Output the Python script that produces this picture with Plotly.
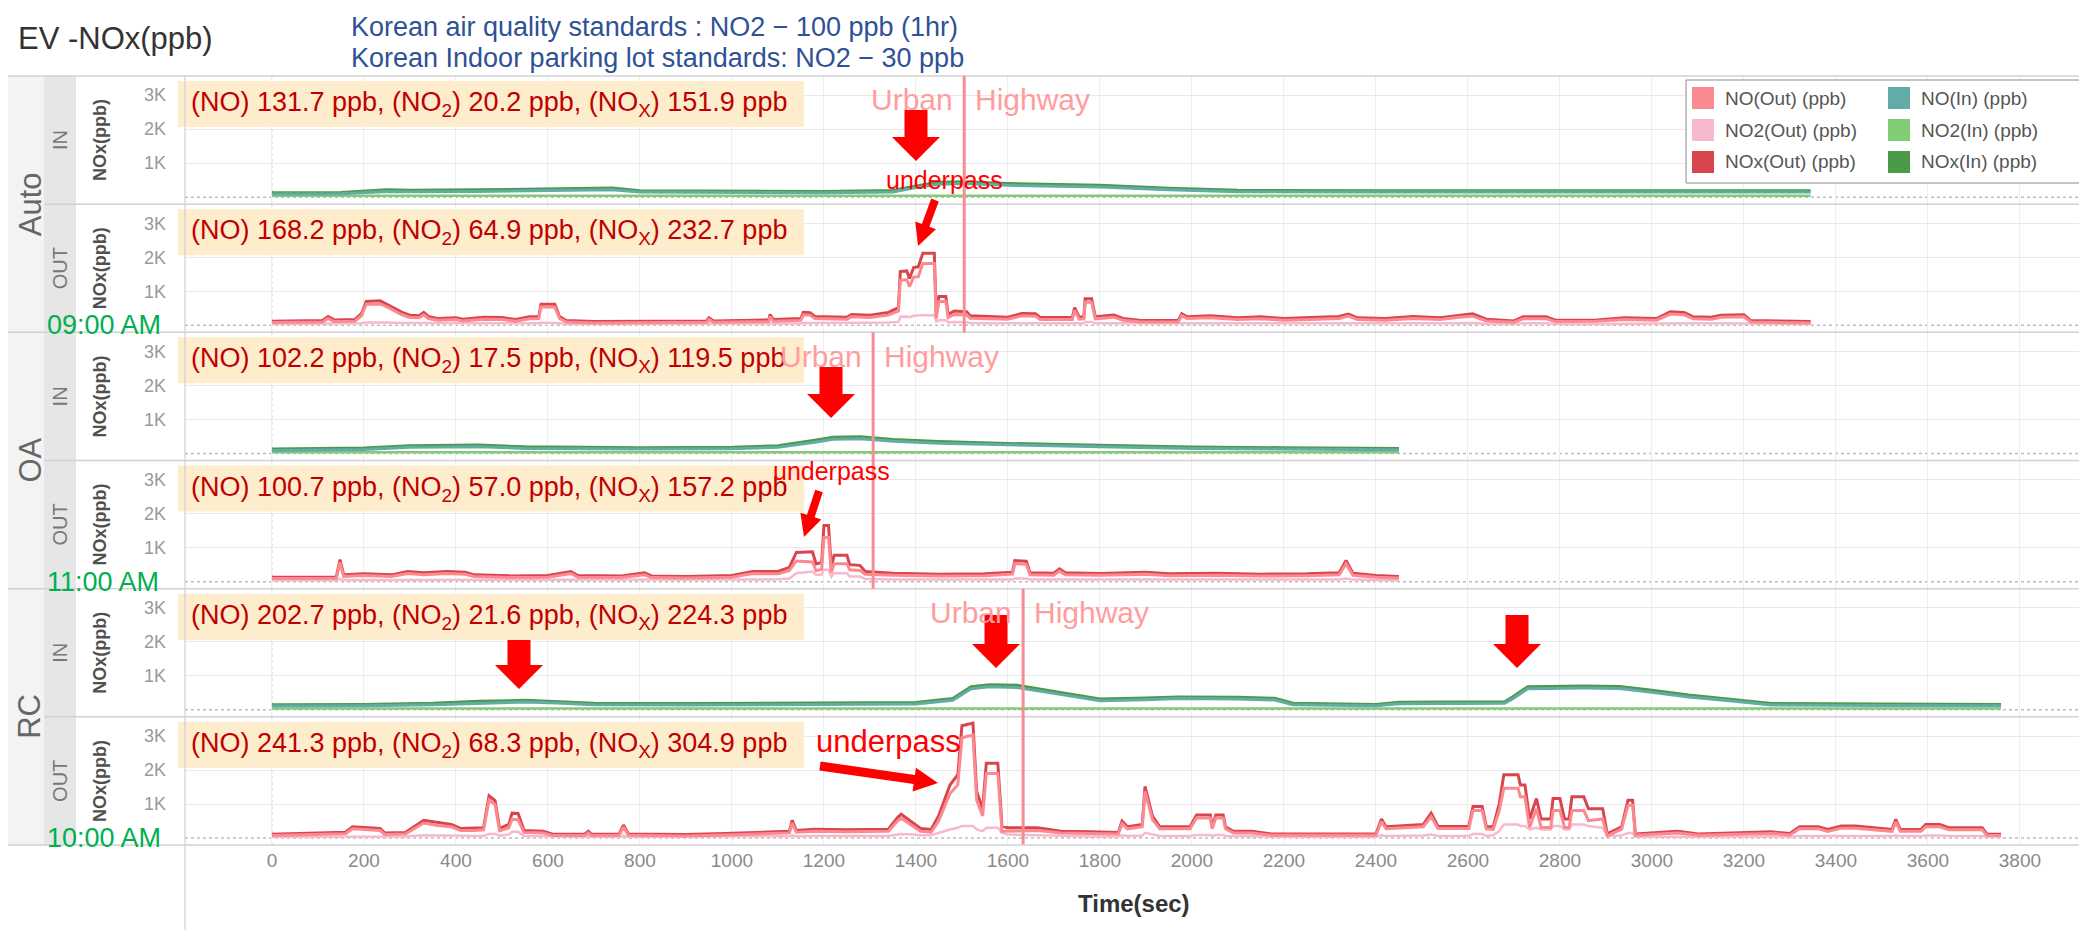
import math
import plotly.graph_objects as go

W, H = 2087, 930

# ======================= DATA =======================
x_ticks = [0, 200, 400, 600, 800, 1000, 1200, 1400, 1600, 1800, 2000,
           2200, 2400, 2600, 2800, 3000, 3200, 3400, 3600, 3800]
y_tick_vals = [1000, 2000, 3000]
y_tick_text = ["1K", "2K", "3K"]

groups = ["Auto", "OA", "RC"]
locations = ["IN", "OUT"]
start_times = ["09:00 AM", "11:00 AM", "10:00 AM"]
boundary_t = [1505, 1307, 1633]          # Urban | Highway boundary (sec)

# summary per panel: Auto IN, Auto OUT, OA IN, OA OUT, RC IN, RC OUT
summary_no = [131.7, 168.2, 102.2, 100.7, 202.7, 241.3]
summary_no2 = [20.2, 64.9, 17.5, 57.0, 21.6, 68.3]
summary_nox = [151.9, 232.7, 119.5, 157.2, 224.3, 304.9]

# ---- Auto IN ----
auto_in_t = [0, 150, 250, 300, 450, 600, 680, 740, 800, 1000, 1200, 1350, 1400, 1450,
             1500, 1600, 1800, 1950, 2100, 2400, 2700, 3000, 3345]
auto_in_no = [90, 100, 170, 160, 170, 190, 220, 220, 150, 140, 130, 150, 280, 380,
              400, 350, 300, 220, 160, 150, 140, 150, 150]
auto_in_no2 = [40, 40, 45, 45, 45, 50, 50, 50, 40, 40, 40, 45, 50, 55,
               55, 50, 50, 45, 40, 40, 40, 40, 40]
auto_in_nox = [130, 140, 215, 205, 215, 240, 270, 270, 190, 180, 170, 195, 330, 435,
               455, 400, 350, 265, 200, 190, 180, 190, 190]

# ---- Auto OUT ----
auto_out_t = [0, 60, 110, 122, 135, 180, 195, 205, 235, 250, 283, 300, 320, 330, 340,
              360, 400, 415, 460, 500, 530, 560, 580, 585, 615, 625, 640, 700, 800, 900,
              945, 950, 960, 1050, 1080, 1083, 1090, 1150, 1155, 1170, 1180, 1250, 1260,
              1300, 1340, 1362, 1366, 1380, 1386, 1395, 1405, 1415, 1440, 1444, 1450,
              1465, 1470, 1483, 1510, 1518, 1560, 1600, 1630, 1660, 1670, 1740, 1745,
              1755, 1765, 1768, 1782, 1790, 1830, 1850, 1890, 1970, 1978, 1990, 2040,
              2100, 2150, 2200, 2260, 2320, 2340, 2360, 2420, 2480, 2540, 2580, 2610,
              2640, 2700, 2720, 2770, 2790, 2880, 2940, 3010, 3040, 3070, 3090, 3130,
              3150, 3200, 3215, 3345]
auto_out_nox = [120, 130, 140, 260, 160, 170, 350, 700, 720, 620, 380, 300, 280, 380, 260,
                200, 220, 180, 240, 230, 170, 250, 260, 620, 620, 260, 140, 110, 110, 120,
                130, 220, 130, 150, 160, 320, 170, 200, 380, 370, 260, 240, 320,
                300, 380, 520, 1580, 1600, 1380, 1700, 1720, 2120, 2120, 320, 850,
                850, 320, 420, 400, 280, 250, 240, 350, 340, 230, 230, 520,
                240, 250, 780, 780, 250, 300, 200, 140, 140, 340, 250, 280,
                220, 250, 200, 230, 260, 330, 220, 200, 260, 220, 300, 340,
                180, 130, 250, 250, 150, 160, 220, 200, 400, 380, 250, 240,
                300, 310, 140, 110]
auto_out_no2 = [40, 40, 45, 60, 50, 50, 60, 80, 90, 80, 70, 70, 60, 70, 60,
                50, 50, 50, 60, 60, 50, 60, 60, 80, 80, 60, 40, 40, 40, 40,
                40, 50, 40, 45, 50, 60, 50, 55, 70, 70, 60, 60, 70,
                70, 80, 100, 250, 260, 240, 280, 290, 300, 300, 120, 150,
                150, 90, 100, 90, 70, 60, 60, 70, 70, 60, 60, 80,
                60, 60, 100, 100, 60, 60, 50, 40, 40, 60, 50, 60,
                50, 55, 50, 55, 60, 60, 50, 50, 60, 50, 60, 70,
                50, 40, 60, 60, 40, 40, 50, 50, 70, 70, 60, 60,
                60, 60, 40, 40]
auto_out_no = [80, 90, 95, 200, 110, 120, 290, 620, 630, 540, 310, 230, 220, 310, 200,
               150, 170, 130, 180, 170, 120, 190, 200, 540, 540, 200, 100, 70, 70, 80,
               90, 170, 90, 105, 110, 260, 120, 145, 310, 300, 200, 180, 250,
               230, 300, 420, 1330, 1340, 1140, 1420, 1430, 1820, 1820, 200, 700,
               700, 230, 320, 310, 210, 190, 180, 280, 270, 170, 170, 440,
               180, 190, 680, 680, 190, 240, 150, 100, 100, 280, 200, 220,
               170, 195, 150, 175, 200, 270, 170, 150, 200, 170, 240, 270,
               130, 90, 190, 190, 110, 120, 170, 150, 330, 310, 190, 180,
               240, 250, 100, 70]

# ---- OA IN ----
oa_in_t = [0, 200, 300, 450, 550, 800, 1000, 1100, 1180, 1220, 1280, 1350, 1450, 1600,
           1800, 2000, 2200, 2450]
oa_in_no = [90, 120, 180, 200, 150, 130, 140, 180, 330, 420, 430, 360, 300, 250,
            200, 150, 130, 110]
oa_in_no2 = [40, 40, 45, 50, 45, 40, 40, 45, 60, 60, 60, 55, 50, 45,
             45, 40, 40, 40]
oa_in_nox = [130, 160, 225, 250, 195, 170, 180, 225, 390, 480, 490, 415, 350, 295,
             245, 190, 170, 150]

# ---- OA OUT ----
oa_out_t = [0, 140, 148, 156, 200, 260, 295, 330, 380, 420, 440, 520, 600, 650, 665,
            760, 810, 825, 900, 1000, 1045, 1100, 1125, 1140, 1175, 1183, 1195, 1200,
            1210, 1216, 1222, 1250, 1256, 1278, 1290, 1350, 1450, 1550, 1610, 1615,
            1640, 1648, 1700, 1712, 1725, 1800, 1900, 1950, 2050, 2150, 2250, 2320,
            2335, 2350, 2400, 2450]
oa_out_nox = [130, 140, 650, 200, 230, 200, 300, 260, 300, 280, 200, 170, 180, 300, 180,
              170, 260, 170, 150, 180, 300, 300, 420, 860, 880, 520, 560, 1650,
              1650, 420, 780, 780, 500, 480, 300, 250, 220, 230, 280, 620,
              600, 260, 250, 380, 260, 240, 280, 230, 250, 220, 230, 260,
              620, 250, 180, 150]
oa_out_no2 = [40, 40, 80, 50, 50, 50, 60, 60, 60, 60, 50, 50, 50, 60, 50,
              50, 60, 50, 45, 50, 60, 70, 90, 250, 300, 200, 200, 350,
              350, 150, 250, 250, 150, 150, 80, 60, 55, 55, 60, 90,
              90, 60, 60, 70, 60, 55, 60, 55, 60, 55, 55, 60,
              90, 60, 50, 45]
oa_out_no = [90, 100, 570, 150, 180, 150, 240, 200, 240, 220, 150, 120, 130, 240, 130,
             120, 200, 120, 105, 130, 240, 230, 330, 610, 580, 320, 360, 1300,
             1300, 270, 530, 530, 350, 330, 220, 190, 165, 175, 220, 530,
             510, 200, 190, 310, 200, 185, 220, 175, 190, 165, 175, 200,
             530, 190, 130, 105]

# ---- RC IN ----
rc_in_t = [0, 200, 350, 450, 550, 620, 700, 900, 1100, 1300, 1400, 1480, 1520, 1560,
           1620, 1720, 1800, 1900, 1970, 2100, 2180, 2220, 2400, 2450, 2680, 2700, 2730,
           2850, 2930, 3000, 3080, 3180, 3260, 3500, 3759]
rc_in_no = [110, 120, 150, 200, 230, 200, 150, 140, 150, 160, 170, 280, 620, 680,
            660, 440, 270, 300, 330, 320, 290, 150, 120, 180, 190, 350, 620,
            640, 630, 520, 380, 250, 140, 130, 120]
rc_in_no2 = [40, 40, 45, 50, 50, 50, 45, 45, 45, 45, 45, 50, 60, 60,
             60, 55, 50, 50, 50, 50, 50, 45, 40, 45, 45, 55, 60,
             60, 60, 55, 55, 50, 45, 40, 40]
rc_in_nox = [150, 160, 195, 250, 280, 250, 195, 185, 195, 205, 215, 330, 680, 740,
             720, 495, 320, 350, 380, 370, 340, 195, 160, 225, 235, 405, 680,
             700, 690, 575, 435, 300, 185, 170, 160]

# ---- RC OUT ----
rc_out_t = [0, 90, 160, 175, 235, 245, 290, 330, 360, 390, 410, 440, 460, 472, 485,
            495, 515, 522, 535, 548, 590, 610, 680, 688, 695, 755, 764, 775, 900, 985,
            1090, 1125, 1131, 1140, 1180, 1250, 1340, 1360, 1368, 1395, 1410, 1433, 1449,
            1474, 1491, 1500, 1524, 1532, 1545, 1553, 1578, 1587, 1600, 1665, 1715,
            1780, 1840, 1848, 1860, 1892, 1898, 1914, 1930, 1996, 2010, 2040, 2044,
            2052, 2068, 2073, 2090, 2130, 2173, 2400, 2412, 2422, 2503, 2520, 2535,
            2602, 2611, 2631, 2640, 2655, 2668, 2678, 2709, 2714, 2724, 2734, 2749,
            2759, 2780, 2785, 2800, 2810, 2820, 2826, 2852, 2862, 2893, 2903, 2934,
            2948, 2958, 2964, 3056, 3100, 3260, 3300, 3321, 3362, 3382, 3412, 3443,
            3522, 3530, 3540, 3585, 3595, 3626, 3646, 3718, 3728, 3759]
rc_out_nox = [110, 150, 170, 330, 280, 150, 160, 520, 450, 400, 280, 280, 300, 1240, 1100,
              280, 400, 730, 720, 220, 200, 110, 110, 200, 110, 120, 380, 120, 100, 130,
              170, 200, 520, 220, 260, 240, 260, 600, 700, 420, 280, 250, 640,
              1560, 1860, 3300, 3380, 1370, 850, 2200, 2200, 350, 300, 300, 200,
              180, 160, 500, 330, 400, 1520, 650, 330, 330, 680, 680, 330,
              680, 680, 330, 200, 200, 120, 120, 560, 330, 400, 730, 340,
              340, 930, 930, 330, 330, 1000, 1860, 1860, 1560, 1560, 560, 1160,
              560, 560, 1160, 1160, 560, 560, 1210, 1210, 860, 860, 120, 330,
              1110, 1110, 120, 200, 120, 180, 130, 330, 330, 250, 350, 350,
              250, 550, 250, 250, 400, 400, 300, 300, 120, 110]
rc_out_no2 = [40, 45, 45, 60, 60, 45, 45, 80, 80, 70, 60, 60, 60, 120, 120,
              70, 100, 180, 180, 60, 50, 40, 40, 50, 40, 40, 60, 40, 40, 40,
              45, 50, 80, 50, 60, 60, 60, 100, 120, 100, 80, 80, 150,
              250, 300, 350, 350, 250, 200, 300, 300, 150, 100, 80, 50,
              45, 45, 80, 60, 70, 150, 100, 60, 60, 90, 90, 60,
              90, 90, 60, 50, 50, 40, 40, 80, 60, 70, 100, 60,
              60, 120, 120, 60, 80, 200, 400, 400, 350, 350, 250, 300,
              250, 250, 350, 350, 250, 250, 400, 400, 350, 300, 60, 70,
              150, 150, 40, 50, 40, 45, 40, 60, 60, 55, 60, 60,
              55, 80, 55, 55, 70, 70, 60, 60, 40, 40]
rc_out_no = [70, 105, 125, 270, 220, 105, 115, 440, 370, 330, 220, 220, 240, 1120, 980,
             210, 300, 550, 540, 160, 150, 70, 70, 150, 70, 80, 320, 80, 60, 90,
             125, 150, 440, 170, 200, 180, 200, 500, 580, 320, 200, 170, 490,
             1310, 1560, 2950, 3030, 1120, 650, 1900, 1900, 200, 200, 220, 150,
             135, 115, 420, 270, 330, 1370, 550, 270, 270, 590, 590, 270,
             590, 590, 270, 150, 150, 80, 80, 480, 270, 330, 630, 280,
             280, 810, 810, 270, 250, 800, 1460, 1460, 1210, 1210, 310, 860,
             310, 310, 810, 810, 310, 310, 810, 810, 510, 560, 60, 260,
             960, 960, 80, 150, 80, 135, 90, 270, 270, 195, 290, 290,
             195, 470, 195, 195, 330, 330, 240, 240, 80, 70]

panel_data = [
    (auto_in_t, auto_in_no, auto_in_no2, auto_in_nox),
    (auto_out_t, auto_out_no, auto_out_no2, auto_out_nox),
    (oa_in_t, oa_in_no, oa_in_no2, oa_in_nox),
    (oa_out_t, oa_out_no, oa_out_no2, oa_out_nox),
    (rc_in_t, rc_in_no, rc_in_no2, rc_in_nox),
    (rc_out_t, rc_out_no, rc_out_no2, rc_out_nox),
]

series_names = {
    "OUT": ["NO(Out) (ppb)", "NO2(Out) (ppb)", "NOx(Out) (ppb)"],
    "IN": ["NO(In) (ppb)", "NO2(In) (ppb)", "NOx(In) (ppb)"],
}
colors = {
    "NO(Out) (ppb)": "#fb8990", "NO2(Out) (ppb)": "#f8b8cd", "NOx(Out) (ppb)": "#d9454d",
    "NO(In) (ppb)": "#62aba6", "NO2(In) (ppb)": "#80cd74", "NOx(In) (ppb)": "#4b9a47",
}

# ======================= LAYOUT GEOMETRY =======================
TOP, BOT = 68, 837
PH = (BOT - TOP) / 6
XL, XR = 177, 2080
X_RANGE = [-189, 3948]
Y_RANGE = [-206, 3564]
FONT = "Liberation Sans, Arial, sans-serif"


def px(x):
    return x / W


def py(y):
    return 1 - y / H


def block_arrow(x0, y0, x1, y1, sw, hw, hl, color="#ff0000"):
    dx, dy = x1 - x0, y1 - y0
    L = math.hypot(dx, dy)
    ux, uy = dx / L, dy / L
    nx, ny = -uy, ux
    bx, by = x1 - ux * hl, y1 - uy * hl
    pts = [(x0 + nx * sw / 2, y0 + ny * sw / 2), (bx + nx * sw / 2, by + ny * sw / 2),
           (bx + nx * hw / 2, by + ny * hw / 2), (x1, y1),
           (bx - nx * hw / 2, by - ny * hw / 2), (bx - nx * sw / 2, by - ny * sw / 2),
           (x0 - nx * sw / 2, y0 - ny * sw / 2)]
    path = "M " + " L ".join(f"{px(a):.5f},{py(b):.5f}" for a, b in pts) + " Z"
    return dict(type="path", path=path, xref="paper", yref="paper",
                fillcolor=color, line=dict(width=0), layer="above")


def label(x, y, text, size, color, angle=0, xanchor="center", bold=False):
    return dict(xref="paper", yref="paper", x=px(x), y=py(y), xanchor=xanchor,
                yanchor="middle", text=f"<b>{text}</b>" if bold else text, textangle=angle,
                showarrow=False, font=dict(family=FONT, size=size, color=color))


fig = go.Figure()
shapes = []
annotations = []

for i, (t, no, no2, nox) in enumerate(panel_data):
    loc = locations[i % 2]
    n_no, n_no2, n_nox = series_names[loc]
    xa = "x" if i == 0 else f"x{i + 1}"
    ya = "y" if i == 0 else f"y{i + 1}"
    fig.add_trace(go.Scatter(x=t, y=no2, mode="lines", name=n_no2, xaxis=xa, yaxis=ya,
                             line=dict(color=colors[n_no2], width=2.5), showlegend=False))
    fig.add_trace(go.Scatter(x=t, y=nox, mode="lines", name=n_nox, xaxis=xa, yaxis=ya,
                             line=dict(color=colors[n_nox], width=3), showlegend=False))
    fig.add_trace(go.Scatter(x=t, y=no, mode="lines", name=n_no, xaxis=xa, yaxis=ya,
                             line=dict(color=colors[n_no], width=3), showlegend=False))

    top = TOP + i * PH
    bot = top + PH
    xkey = "xaxis" if i == 0 else f"xaxis{i + 1}"
    ykey = "yaxis" if i == 0 else f"yaxis{i + 1}"
    fig.layout[xkey] = dict(
        domain=[px(XL), px(XR)], range=X_RANGE, anchor=ya, tickvals=x_ticks,
        showticklabels=(i == 5), showgrid=True, gridcolor="#eeeeee", gridwidth=1,
        zeroline=False, showline=False, ticks="",
        tickfont=dict(family=FONT, size=19, color="#8a8a8a"), ticklabelstandoff=2,
        **({} if i == 0 else {"matches": "x"}))
    fig.layout[ykey] = dict(
        domain=[py(bot), py(top)], range=Y_RANGE, anchor=xa, tickvals=y_tick_vals,
        ticktext=y_tick_text, showgrid=True, gridcolor="#e9e9e9", gridwidth=1,
        zeroline=False, showline=False, ticks="", ticklabelstandoff=18,
        tickfont=dict(family=FONT, size=18, color="#999999"))

    # dotted zero line and dotted t=0 line
    shapes.append(dict(type="line", xref=f"{xa} domain", x0=0, x1=1, yref=ya, y0=0, y1=0,
                       line=dict(color="#bdbdbd", width=1.5, dash="dot"), layer="below"))
    shapes.append(dict(type="line", xref=xa, x0=0, x1=0, yref=f"{ya} domain", y0=0, y1=1,
                       line=dict(color="#c8c8c8", width=1, dash="dot"), layer="below"))

    # summary box
    shapes.append(dict(type="rect", xref="paper", yref="paper", x0=px(170), x1=px(796),
                       y0=py(top + 51), y1=py(top + 5), fillcolor="#fdedcc",
                       line=dict(width=0), layer="above"))
    annotations.append(label(
        181, top + 28,
        (f"(NO) {summary_no[i]:.1f} ppb, (NO<sub>2</sub>) {summary_no2[i]:.1f} ppb, "
         f"(NO<sub>X</sub>) {summary_nox[i]:.1f} ppb"),
        27, "#c00000", xanchor="left"))

    # row labels
    annotations.append(label(52, top + PH / 2, loc, 20, "#777777", angle=-90))
    annotations.append(label(92, top + PH / 2, "NOx(ppb)", 18, "#505050", angle=-90, bold=True))

    # separators
    shapes.append(dict(type="line", xref="paper", yref="paper",
                       x0=px(0 if i % 2 == 0 else 36), x1=px(XR), y0=py(top), y1=py(top),
                       line=dict(color="#d2d2d2", width=1.5), layer="above"))

# group-level decorations
for g, name in enumerate(groups):
    gtop = TOP + 2 * g * PH
    gbot = gtop + 2 * PH
    xa = "x" if g == 0 else f"x{2 * g + 1}"
    annotations.append(label(22, (gtop + gbot) / 2, name, 31, "#666666", angle=-90))
    annotations.append(label(37, gbot - 7, start_times[g], 27, "#00b050", xanchor="left"))
    shapes.append(dict(type="line", xref=xa, x0=boundary_t[g], x1=boundary_t[g],
                       yref="paper", y0=py(gbot), y1=py(gtop),
                       line=dict(color="#f58d92", width=3), layer="above"))
    annotations.append(dict(xref=xa, yref="paper", x=boundary_t[g], y=py(gtop + 24),
                            xanchor="right", yanchor="middle", xshift=-9, text="Urban",
                            showarrow=False, font=dict(family=FONT, size=30, color="#ff9d9d")))
    annotations.append(dict(xref=xa, yref="paper", x=boundary_t[g], y=py(gtop + 24),
                            xanchor="left", yanchor="middle", xshift=9, text="Highway",
                            showarrow=False, font=dict(family=FONT, size=30, color="#ff9d9d")))

# left columns backgrounds
shapes.insert(0, dict(type="rect", xref="paper", yref="paper", x0=0, x1=px(36),
                      y0=py(BOT), y1=py(TOP), fillcolor="#f3f3f3", line=dict(width=0),
                      layer="below"))
shapes.insert(1, dict(type="rect", xref="paper", yref="paper", x0=px(36), x1=px(68),
                      y0=py(BOT), y1=py(TOP), fillcolor="#e6e6e6", line=dict(width=0),
                      layer="below"))
# bottom separator, left border, right border
shapes.append(dict(type="line", xref="paper", yref="paper", x0=0, x1=px(XR), y0=py(BOT),
                   y1=py(BOT), line=dict(color="#d2d2d2", width=1.5), layer="above"))
shapes.append(dict(type="line", xref="paper", yref="paper", x0=px(XL), x1=px(XL),
                   y0=0, y1=py(TOP), line=dict(color="#d0d0d0", width=1.2), layer="above"))
shapes.append(dict(type="line", xref="paper", yref="paper", x0=px(XR), x1=px(XR),
                   y0=py(BOT), y1=py(TOP), line=dict(color="#dddddd", width=1.2),
                   layer="above"))

# red arrows
big = dict(sw=23, hw=48, hl=24)
shapes.append(block_arrow(908, 102, 908, 153, **big))
shapes.append(block_arrow(823, 359, 823, 410, **big))
shapes.append(block_arrow(511, 632, 511, 681, **big))
shapes.append(block_arrow(988, 607, 988, 660, **big))
shapes.append(block_arrow(1509, 607, 1509, 660, **big))
small = dict(sw=8, hw=22, hl=22)
shapes.append(block_arrow(927, 192, 910, 238, **small))
shapes.append(block_arrow(811, 483, 796, 529, **small))
shapes.append(block_arrow(812, 758, 930, 775, sw=9, hw=24, hl=24))
for (ux, uy, fs) in [(936, 172, 25), (823, 463, 25), (880, 733, 31)]:
    annotations.append(label(ux, uy, "underpass", fs, "#ff0000"))

# titles
annotations.append(label(8, 31, "EV -NOx(ppb)", 31, "#333333", xanchor="left"))
annotations.append(label(341, 19, "Korean air quality standards : NO2 \u2212 100 ppb (1hr)",
                         27, "#2f5196", xanchor="left"))
annotations.append(label(341, 50, "Korean Indoor parking lot standards: NO2 \u2212 30 ppb",
                         27, "#2f5196", xanchor="left"))
annotations.append(label(1126, 895, "Time(sec)", 24, "#333333", bold=True))

# legend (manual, two columns)
shapes.append(dict(type="rect", xref="paper", yref="paper", x0=px(1678), x1=px(2074),
                   y0=py(175), y1=py(72), fillcolor="white",
                   line=dict(color="#8c8c8c", width=1), layer="above"))
legend_cols = [series_names["OUT"], series_names["IN"]]
for c, col in enumerate(legend_cols):
    sx = 1684 + c * 196
    for r, nm in enumerate(col):
        cy = 90 + r * 32
        shapes.append(dict(type="rect", xref="paper", yref="paper", x0=px(sx), x1=px(sx + 22),
                           y0=py(cy + 11), y1=py(cy - 11), fillcolor=colors[nm],
                           line=dict(width=0), layer="above"))
        annotations.append(label(sx + 31, cy, nm, 19, "#555555", xanchor="left"))

fig.update_layout(width=W, height=H, margin=dict(l=0, r=0, t=0, b=0), autosize=False,
                  paper_bgcolor="white", plot_bgcolor="white", showlegend=False,
                  shapes=shapes, annotations=annotations)

fig.write_html("out.html")
